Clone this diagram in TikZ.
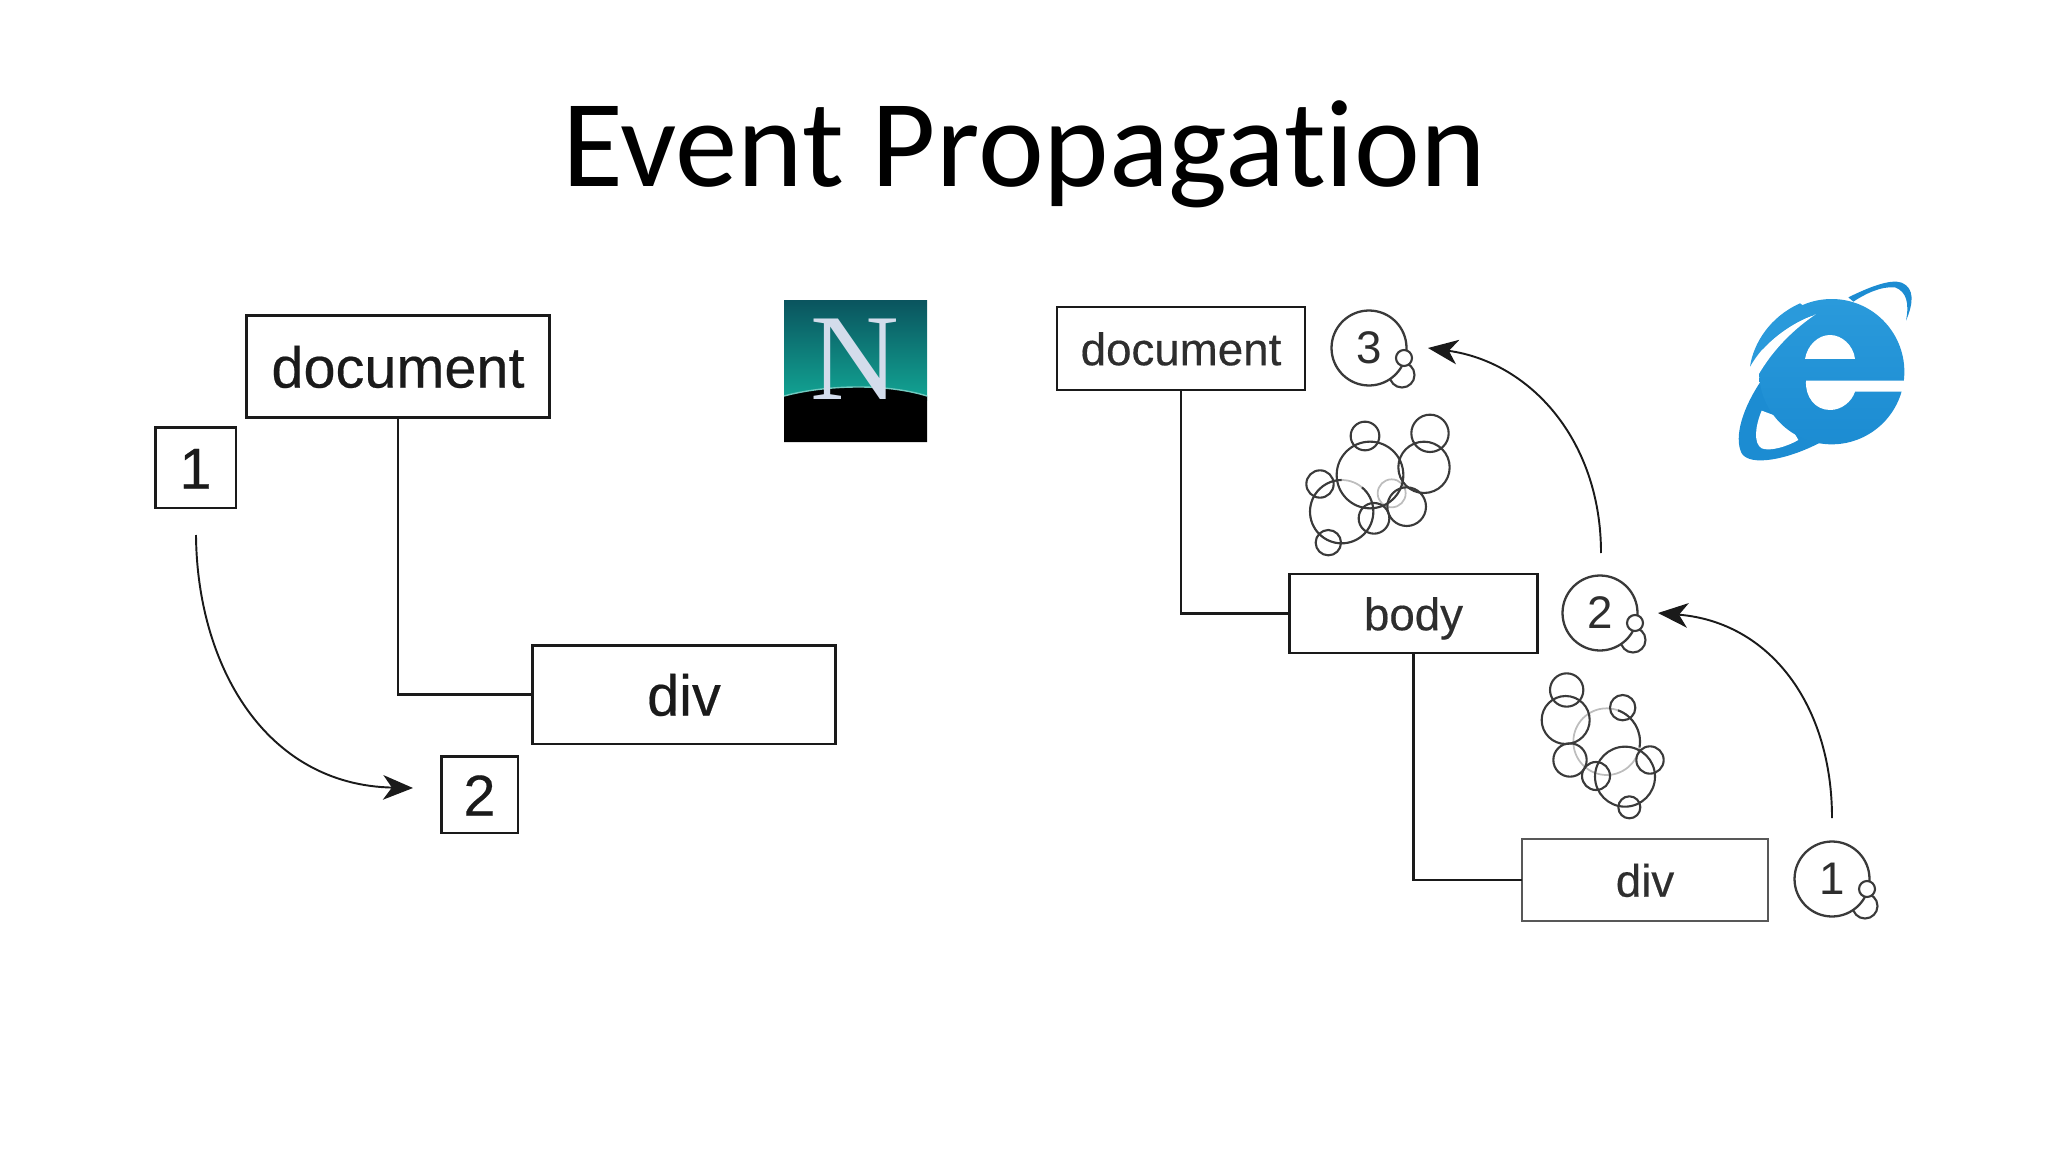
\documentclass[tikz,border=0pt]{standalone}
\usepackage{fontspec}
\setmainfont{Liberation Sans}
\newfontfamily\titlefont[Ligatures=NoCommon]{Carlito}
\newfontfamily\nsfont{Liberation Serif}
\newfontfamily\lblfont[FakeBold=0.35]{Liberation Sans}
\usetikzlibrary{arrows.meta}
\definecolor{inkA}{HTML}{1A1A1A}
\definecolor{inkB}{HTML}{2E2E2E}
\definecolor{bub}{HTML}{3A3A3A}
\definecolor{bubfaint}{HTML}{BDBDBD}
\definecolor{nsTop}{HTML}{0A545E}
\definecolor{nsBot}{HTML}{12A594}
\definecolor{nsN}{HTML}{D3DCEB}
\definecolor{ieA}{HTML}{2A9ADB}
\definecolor{ieB}{HTML}{40B8F0}
\definecolor{ieC}{HTML}{1C8CD2}
\tikzset{
  every node/.style={inner sep=0pt,outer sep=0pt},
  lbox/.style={draw=inkA,line width=1.7pt,fill=white,text=inkA,text height=24pt,text depth=0pt,font=\lblfont\fontsize{32.8pt}{36pt}\selectfont},
  rbox/.style={draw=inkA,line width=1.5pt,fill=white,text=inkB,text height=19pt,text depth=0pt,font=\lblfont\fontsize{26pt}{30pt}\selectfont},
  numc/.style={circle,draw=bub,line width=1.3pt,minimum size=1.5cm,text=inkB,text height=18pt,text depth=0pt,font=\fontsize{26pt}{30pt}\selectfont},
  wire/.style={draw=inkA,line width=1.5pt},
  flow/.style={draw=inkA,line width=1.1pt,-{Stealth[length=17pt,width=14pt,inset=5pt]}},
  bubl/.style={draw=bub,line width=1.2pt},
  faint/.style={draw=bubfaint,line width=1pt},
}
\begin{document}
\begin{tikzpicture}[x=0.02cm,y=-0.02cm]
\useasboundingbox (0,0) rectangle (2048,1152);
% title
\node[anchor=base,text=black,font=\titlefont\fontsize{71pt}{78pt}\selectfont] (title) at (1024,187) {Event Propagation};
% left diagram
\node[lbox,minimum width=6.08cm,minimum height=2.06cm] (ldoc) at (398,366.5) {document};
\node[lbox,minimum width=1.62cm,minimum height=1.62cm] (lone) at (195.5,467.5) {1};
\node[lbox,minimum width=6.08cm,minimum height=1.98cm] (ldiv) at (684,694.5) {div};
\node[lbox,minimum width=1.54cm,minimum height=1.54cm] (ltwo) at (479.5,794.5) {2};
\draw[wire] (ldoc.south) |- (ldiv.west);
\coordinate (lstart) at (196,535);
\coordinate (lend) at (413,788);
\draw[flow] (lstart) .. controls (197,665) and (265,785) .. (lend);
% netscape logo
\begin{scope}
\shade[top color=nsTop,bottom color=nsBot] (784,300) rectangle (927,400);
\fill[black] (784,396) .. controls (825,385) and (885,383) .. (927,396) -- (927,442) -- (784,442) -- cycle;
\draw[nsBot!60!white,line width=.8pt] (784,396) .. controls (825,385) and (885,383) .. (927,396);
\node[text=nsN,font=\nsfont\fontsize{70pt}{74pt}\selectfont,anchor=base] (nsn) at (855,399) {N};
\end{scope}
% right diagram
\node[rbox,minimum width=4.96cm,minimum height=1.66cm] (rdoc) at (1181,348.5) {document};
\node[rbox,minimum width=4.96cm,minimum height=1.58cm] (rbody) at (1413.5,613.5) {body};
\node[rbox,draw=inkB!80,minimum width=4.92cm,minimum height=1.64cm] (rdiv) at (1645,880) {div};
\draw[wire] (rdoc.south) |- (rbody.west);
\draw[wire] (rbody.south) |- (rdiv.west);
% number circles with their small bubbles
\foreach \cx/\cy/\n/\nm in {1369/348/3/rthree,1600/613/2/rtwoc,1832/879/1/ronec}{
  \draw[bubl] (\cx+33,\cy+27) circle [radius=12.5];
  \node[numc,fill=white] (\nm) at (\cx,\cy) {\n};
  \draw[bubl,fill=white] (\cx+35,\cy+10) circle [radius=8];
}
\coordinate (astart) at (1601,553);
\coordinate (aend) at (1428,348);
\draw[flow] (astart) .. controls (1601,440) and (1530,362) .. (aend);
\coordinate (bstart) at (1832,818);
\coordinate (bend) at (1658,613);
\draw[flow] (bstart) .. controls (1832,705) and (1770,622) .. (bend);
% upper bubble cluster
\begin{scope}[shift={(1040,280)},scale=1/3]
\foreach \x/\y/\r in {1055/640/42,905/695/95}{\draw[faint] (\x,\y) circle [radius=\r];}
\draw[bubl] (1170,460) circle [radius=56];
\draw[bubl] (975,468) circle [radius=43];
\draw[bubl] (840,612) circle [radius=41];
\draw[bubl] (1100,680) circle [radius=58];
\draw[bubl] (990,585) circle [radius=100];
\draw[bubl] (1152,562) circle [radius=77];
\draw[bubl] (905,695) ++(-50:95) arc (-50:270:95);
\draw[bubl] (1002,715) circle [radius=46];
\draw[bubl] (865,788) circle [radius=38];
\end{scope}
% lower bubble cluster
\begin{scope}[shift={(1500,560)},scale=1/3]
\draw[faint] (320,545) circle [radius=100];
\draw[bubl] (200,390) circle [radius=50];
\draw[bubl] (210,600) circle [radius=50];
\draw[bubl] (450,600) circle [radius=41];
\draw[bubl] (375,650) circle [radius=90];
\draw[bubl] (197,480) circle [radius=72];
\draw[bubl] (320,545) ++(-70:100) arc (-70:10:100);
\draw[bubl] (368,443) circle [radius=38];
\draw[bubl] (288,648) circle [radius=42];
\draw[bubl] (388,742) circle [radius=33];
\end{scope}
% internet explorer logo
\begin{scope}[shift={(1720,260)},scale=1/3]
\fill[ieC] (125,360) .. controls (70,440) and (40,530) .. (65,580) .. controls (90,620) and (200,600) .. (300,548) -- (200,450) -- cycle;
\fill[white] (125,452) .. controls (105,500) and (100,550) .. (125,565) .. controls (150,575) and (200,560) .. (235,540) -- (200,480) -- cycle;
\shade[top color=ieA,middle color=ieB,bottom color=ieC] (335,335) circle [radius=218];
\fill[white] (85,325) .. controls (130,250) and (210,190) .. (287,163) .. controls (225,205) and (160,265) .. (112,350) -- (60,400) -- (60,300) -- cycle;
\fill[ieA] (90,320) .. controls (100,250) and (150,170) .. (240,130) .. controls (255,140) and (275,155) .. (283,165) .. controls (200,190) and (130,250) .. (90,320) -- cycle;
\fill[ieC] (385,112) .. controls (440,85) and (510,55) .. (545,68) .. controls (585,85) and (580,130) .. (558,182) .. controls (568,130) and (560,95) .. (525,82) .. controls (480,78) and (430,105) .. (400,125) -- cycle;
\fill[white] (255,297) .. controls (262,255) and (295,225) .. (330,225) .. controls (365,225) and (400,255) .. (405,297) -- cycle;
\fill[white] (258,362) -- (560,362) -- (556,395) -- (405,395) .. controls (395,425) and (365,450) .. (330,450) .. controls (285,450) and (255,410) .. (258,362) -- cycle;
\end{scope}
\end{tikzpicture}
\end{document}
